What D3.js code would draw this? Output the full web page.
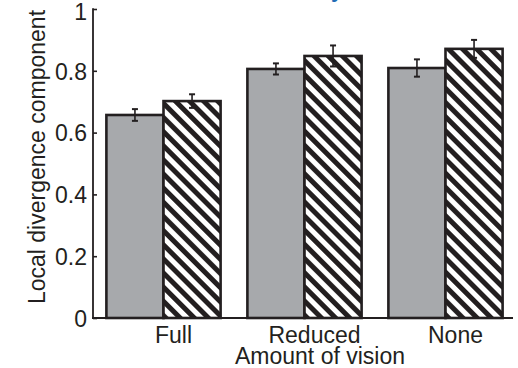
<!DOCTYPE html>
<html lang="en">
<head>
<meta charset="UTF-8">
<title>Local divergence component</title>
<style>
  body { margin: 0; background: #fff; }
  svg { display: block; font-family: "Liberation Sans", Arial, sans-serif; }
</style>
</head>
<body>
<svg id="chart" width="518" height="368"></svg>
<script src="https://cdn.jsdelivr.net/npm/d3@7"></script>
<script>
  // data
  const categories = ['Full', 'Reduced', 'None'];
  const series = ['gray', 'hatched'];
  const grayValues = [0.657, 0.806, 0.809];
  const grayErrors = [0.019, 0.018, 0.028];
  const hatchValues = [0.702, 0.848, 0.871];
  const hatchErrors = [0.022, 0.034, 0.029];
  const yTicks = [0, 0.2, 0.4, 0.6, 0.8, 1];

  const ink = '#231f20';
  const fs = 23;
  const svg = d3.select('#chart');

  const x = d3.scaleBand().domain(categories).range([93, 516])
    .paddingInner(0.19).paddingOuter(0.095);
  const xs = d3.scaleBand().domain(series).range([0, x.bandwidth()]);
  const y = d3.scaleLinear().domain([0, 1]).range([318, 9]);

  // hatch pattern, stripes going down to the right
  const defs = svg.append('defs');
  const pat = defs.append('pattern')
    .attr('id', 'hatch')
    .attr('patternUnits', 'userSpaceOnUse')
    .attr('width', 10).attr('height', 10)
    .attr('patternTransform', 'rotate(-45)');
  pat.append('rect').attr('width', 10).attr('height', 10).attr('fill', '#fff');
  pat.append('rect').attr('width', 5).attr('height', 10).attr('fill', ink);

  // cropped blue title (only its descender shows)
  svg.append('text')
    .attr('x', 331).attr('y', -3)
    .attr('font-size', 22).attr('font-weight', 'bold')
    .attr('fill', '#1f6db5')
    .text('y');

  const rows = [];
  categories.forEach((c, i) => {
    rows.push({ cat: c, s: 'gray', v: grayValues[i], e: grayErrors[i] });
    rows.push({ cat: c, s: 'hatched', v: hatchValues[i], e: hatchErrors[i] });
  });

  svg.append('g').selectAll('rect')
    .data(rows)
    .enter().append('rect')
    .attr('x', d => x(d.cat) + xs(d.s))
    .attr('y', d => y(d.v))
    .attr('width', xs.bandwidth())
    .attr('height', d => y(0) - y(d.v))
    .attr('fill', d => d.s === 'gray' ? '#a7a9ac' : 'url(#hatch)')
    .attr('stroke', ink)
    .attr('stroke-width', 2.6);

  // error bars
  const eb = svg.append('g').attr('stroke', ink).attr('stroke-width', 1.6);
  rows.forEach(d => {
    const cx = x(d.cat) + xs(d.s) + xs.bandwidth() / 2;
    eb.append('line').attr('x1', cx).attr('x2', cx)
      .attr('y1', y(d.v + d.e)).attr('y2', y(d.v - d.e));
    [d.v + d.e, d.v - d.e].forEach(t => {
      eb.append('line').attr('x1', cx - 3).attr('x2', cx + 3)
        .attr('y1', y(t)).attr('y2', y(t)).attr('stroke-width', 2);
    });
  });

  // y axis with inward ticks
  const yAxis = svg.append('g')
    .attr('transform', 'translate(93,0)')
    .call(d3.axisRight(y).tickValues(yTicks).tickSize(4)
      .tickFormat(d => d === 0 || d === 1 ? d3.format('d')(d) : d3.format('.1f')(d)));
  yAxis.select('.domain').remove();
  yAxis.selectAll('.tick line').attr('stroke', ink).attr('stroke-width', 1.6);
  yAxis.selectAll('.tick text')
    .attr('x', -6).attr('dy', d => d === 1 ? '0.45em' : '0.36em')
    .attr('text-anchor', 'end')
    .attr('font-size', fs).attr('fill', ink)
    .attr('font-family', '"Liberation Sans", Arial, sans-serif');

  svg.append('line')
    .attr('x1', 93).attr('x2', 93).attr('y1', y(1) - 0.8).attr('y2', y(0))
    .attr('stroke', ink).attr('stroke-width', 1.8);
  svg.append('line')
    .attr('x1', 92).attr('x2', 513).attr('y1', y(0)).attr('y2', y(0))
    .attr('stroke', ink).attr('stroke-width', 1.8);

  // category labels
  svg.append('g').selectAll('text')
    .data(categories)
    .enter().append('text')
    .attr('x', d => x(d) + x.bandwidth() / 2 + 10)
    .attr('y', 343)
    .attr('text-anchor', 'middle')
    .attr('font-size', fs).attr('fill', ink)
    .text(d => d);

  svg.append('text')
    .attr('x', 320).attr('y', 364)
    .attr('text-anchor', 'middle')
    .attr('font-size', fs).attr('fill', ink)
    .text('Amount of vision');

  svg.append('text')
    .attr('transform', 'translate(45,157) rotate(-90)')
    .attr('text-anchor', 'middle')
    .attr('font-size', fs).attr('fill', ink)
    .text('Local divergence component');
</script>
</body>
</html>
